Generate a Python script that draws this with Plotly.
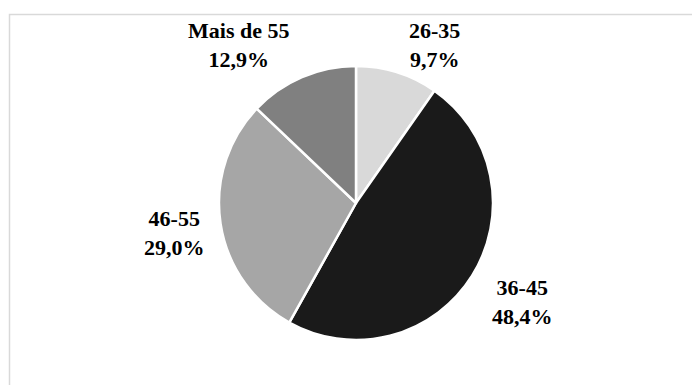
import plotly.graph_objects as go

# Age distribution (percent of respondents)
age_groups = ["26-35", "36-45", "46-55", "Mais de 55"]
shares = [9.7, 48.4, 29.0, 12.9]
slice_colors = ["#d9d9d9", "#1a1a1a", "#a6a6a6", "#808080"]

W, H = 692, 385
FONT = "Liberation Serif"

fig = go.Figure(
    go.Pie(
        labels=age_groups,
        values=shares,
        sort=False,
        direction="clockwise",
        rotation=0,
        marker=dict(colors=slice_colors, line=dict(color="white", width=2.5)),
        textinfo="none",
        hoverinfo="label+percent",
        showlegend=False,
        domain=dict(x=[219 / W, 493 / W], y=[1 - 340 / H, 1 - 66 / H]),
    )
)

# Label placement (pixel centres) for each slice's caption
label_pos = [(434, 45), (522, 302), (174, 233), (238, 45)]


def fmt_pct(v):
    return f"{v:.1f}".replace(".", ",") + "%"


for name, val, (px, py) in zip(age_groups, shares, label_pos):
    fig.add_annotation(
        x=px / W, y=1 - py / H, xref="paper", yref="paper",
        xanchor="center", yanchor="middle",
        text=f"{name}<br>{fmt_pct(val)}",
        showarrow=False, align="center",
        font=dict(family=FONT, size=22, color="black", weight="bold"),
    )

# Light chart-area frame (open to the right and bottom edges)
fig.add_shape(
    type="rect", xref="paper", yref="paper",
    x0=9.5 / W, x1=1.05, y0=-0.05, y1=1 - 14.5 / H,
    line=dict(color="#d9d9d9", width=1.5), fillcolor="rgba(0,0,0,0)",
)

fig.update_layout(
    width=W, height=H,
    margin=dict(l=0, r=0, t=0, b=0),
    paper_bgcolor="white", plot_bgcolor="white",
    separators=",.",
    font=dict(family=FONT),
)

fig.write_html("out.html")
